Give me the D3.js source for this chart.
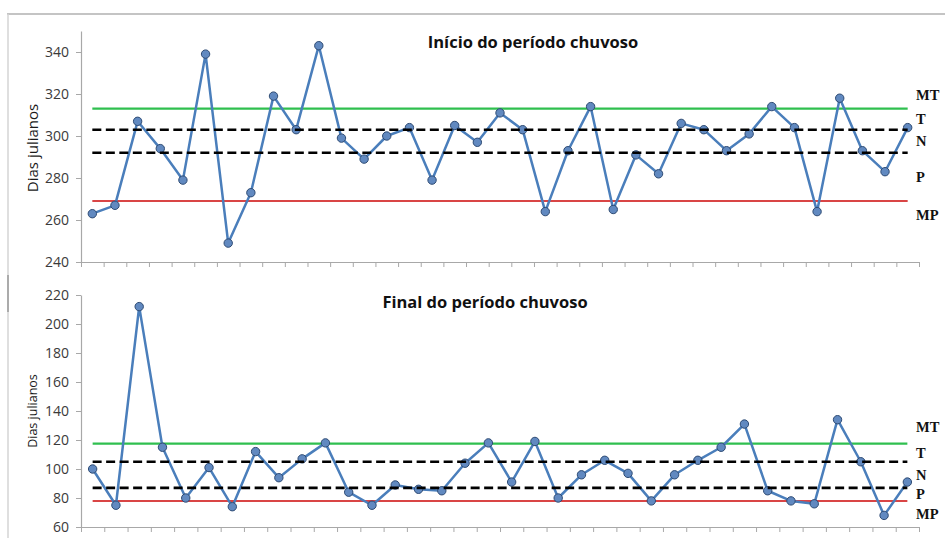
<!DOCTYPE html>
<html>
<head>
<meta charset="utf-8">
<script src="https://cdn.jsdelivr.net/npm/d3@7"></script>
<style>
  html, body { margin: 0; padding: 0; background: #fff; }
  svg { display: block; }
</style>
</head>
<body>
<svg id="chart" width="945" height="538"></svg>
<script>
// Julian day of the onset of the rainy season, one value per year
const inicioValues = [263, 267, 307, 294, 279, 339, 249, 273, 319, 303,
                      343, 299, 289, 300, 304, 279, 305, 297, 311, 303,
                      264, 293, 314, 265, 291, 282, 306, 303, 293, 301,
                      314, 304, 264, 318, 293, 283, 304];
// Julian day of the end of the rainy season, one value per year
const finalValues = [100, 75, 212, 115, 80, 101, 74, 112, 94, 107,
                     118, 84, 75, 89, 86, 85, 104, 118, 91, 119,
                     80, 96, 106, 97, 78, 96, 106, 115, 131, 85,
                     78, 76, 134, 105, 68, 91];

// Class limits: [MT/T, T/N, N/P, P/MP]
const inicioLimits = [313, 303, 292, 269];
const finalLimits = [117.5, 105, 87, 78];

const classLabels = ["MT", "T", "N", "P", "MP"];

const inicioTicks = [240, 260, 280, 300, 320, 340];
const finalTicks = [60, 80, 100, 120, 140, 160, 180, 200, 220];

const inicioTitle = "Início do período chuvoso";
const finalTitle = "Final do período chuvoso";
const yLabel = "Dias julianos";

const svg = d3.select("#chart");

// outer frame
svg.append("line").attr("x1", 7).attr("x2", 945).attr("y1", 14).attr("y2", 14)
  .attr("stroke", "#c4c4c4").attr("stroke-width", 2);
svg.append("line").attr("x1", 8).attr("x2", 8).attr("y1", 14).attr("y2", 538)
  .attr("stroke", "#d4d4d4").attr("stroke-width", 1.5);
svg.append("line").attr("x1", 8).attr("x2", 8).attr("y1", 275).attr("y2", 312)
  .attr("stroke", "#9a9a9a").attr("stroke-width", 1.5);

function drawPanel(cfg) {
  const g = svg.append("g");
  const n = cfg.values.length;
  const x = d3.scaleLinear().domain([0, n]).range([81, 919]);
  const y = d3.scaleLinear().domain(cfg.domain).range(cfg.range);

  // y axis
  const yAxis = g.append("g").attr("transform", "translate(81,0)")
    .call(d3.axisLeft(y).tickValues(cfg.ticks).tickSize(5).tickPadding(7).tickSizeOuter(0));
  yAxis.select(".domain").attr("stroke", "#a8a8a8").attr("stroke-width", 1.2);
  yAxis.selectAll(".tick line").attr("stroke", "#a8a8a8");
  yAxis.selectAll(".tick text").attr("fill", "#3a3a3a")
    .style("font-family", "'Open Sans', 'Liberation Sans', sans-serif").style("font-size", "14px");

  // x axis with ticks at category boundaries
  const xAxis = g.append("g").attr("transform", `translate(0,${cfg.range[0]})`)
    .call(d3.axisBottom(x).tickValues(d3.range(n + 1)).tickFormat("").tickSize(5).tickSizeOuter(0));
  xAxis.select(".domain").attr("stroke", "#a8a8a8").attr("stroke-width", 1.2);
  xAxis.selectAll(".tick line").attr("stroke", "#a8a8a8");

  const xFirst = x(0.5), xLast = x(n - 0.5);
  const lim = cfg.limits;

  // solid limits (MT and MP boundaries)
  g.append("line").attr("x1", xFirst).attr("x2", xLast)
    .attr("y1", y(lim[0])).attr("y2", y(lim[0]))
    .attr("stroke", "#2fbf4f").attr("stroke-width", 2.2);
  g.append("line").attr("x1", xFirst).attr("x2", xLast)
    .attr("y1", y(lim[3])).attr("y2", y(lim[3]))
    .attr("stroke", "#d94545").attr("stroke-width", 2);

  // series
  const line = d3.line().x((d, i) => x(i + 0.5)).y(d => y(d));
  g.append("path").datum(cfg.values).attr("d", line)
    .attr("fill", "none").attr("stroke", "#4a7ebb").attr("stroke-width", 2.5)
    .attr("stroke-linejoin", "round");
  g.selectAll("circle.pt").data(cfg.values).join("circle").attr("class", "pt")
    .attr("cx", (d, i) => x(i + 0.5)).attr("cy", d => y(d)).attr("r", 4.2)
    .attr("fill", "#6189c0").attr("stroke", "#2d4a73").attr("stroke-width", 1);

  // dashed limits (around the normal class)
  [lim[1], lim[2]].forEach(v => {
    g.append("line").attr("x1", xFirst).attr("x2", xLast)
      .attr("y1", y(v)).attr("y2", y(v))
      .attr("stroke", "#000").attr("stroke-width", 2.6).attr("stroke-dasharray", "9,4.5");
  });

  // class labels on the right
  const labelY = [
    y(lim[0]) - cfg.mtOffset,
    (y(lim[0]) + y(lim[1])) / 2,
    (y(lim[1]) + y(lim[2])) / 2,
    (y(lim[2]) + y(lim[3])) / 2,
    y(lim[3]) + cfg.mpOffset
  ];
  g.selectAll("text.cls").data(classLabels).join("text").attr("class", "cls")
    .attr("x", 916).attr("y", (d, i) => labelY[i]).attr("dy", "0.35em")
    .attr("fill", "#111")
    .style("font-family", "'Liberation Serif', 'Times New Roman', serif")
    .style("font-weight", "bold").style("font-size", "14.5px")
    .text(d => d);

  // title
  g.append("text").attr("x", cfg.titleX).attr("y", cfg.titleY).attr("text-anchor", "middle")
    .attr("fill", "#111")
    .style("font-family", "'Open Sans', 'Liberation Sans', sans-serif")
    .style("font-weight", "bold").style("font-size", cfg.titleSize)
    .text(cfg.title);

  // y axis label
  g.append("text")
    .attr("transform", `translate(${cfg.labelX},${cfg.labelY}) rotate(-90)`)
    .attr("text-anchor", "middle").attr("dy", "0.35em")
    .attr("fill", "#1a1a1a")
    .style("font-family", "'Open Sans', 'Liberation Sans', sans-serif")
    .style("font-size", cfg.labelSize)
    .text(yLabel);
}

drawPanel({
  values: inicioValues, limits: inicioLimits, ticks: inicioTicks,
  domain: [240, 350], range: [262, 31],
  title: inicioTitle, titleX: 533, titleY: 48, titleSize: "16.5px",
  labelX: 33, labelY: 148, labelSize: "15px",
  mtOffset: 13.5, mpOffset: 14
});

drawPanel({
  values: finalValues, limits: finalLimits, ticks: finalTicks,
  domain: [60, 220], range: [527, 295],
  title: finalTitle, titleX: 485, titleY: 308, titleSize: "16.5px",
  labelX: 33, labelY: 411, labelSize: "12.5px",
  mtOffset: 16.5, mpOffset: 13
});
</script>
</body>
</html>
